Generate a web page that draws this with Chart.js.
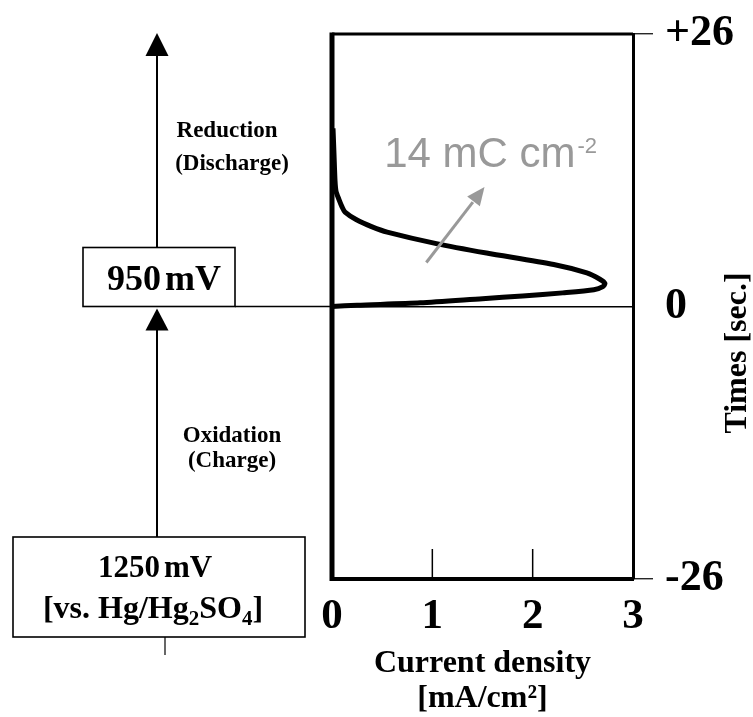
<!DOCTYPE html>
<html>
<head>
<meta charset="utf-8">
<script src="https://cdn.jsdelivr.net/npm/chart.js@4.4.1/dist/chart.umd.min.js"></script>
<style>
  html, body { margin: 0; padding: 0; background: #fff; }
  #wrap { width: 753px; height: 717px; }
</style>
</head>
<body>
<div id="wrap"><canvas id="chartPulse"></canvas></div>
<script>
// reduction current after the step back to 950 mV (time runs downwards)
const timeSec = [17, 14.5, 12, 11, 10.2, 9.5, 9.0, 8.3, 7.6, 7.1, 6.0, 5.1, 4.0, 3.2, 2.6, 2.2, 1.9, 1.6, 1.3, 1.0, 0.75, 0.35, 0.12, 0];
const currentDensity = [0.01, 0.02, 0.03, 0.04, 0.07, 0.10, 0.13, 0.24, 0.40, 0.55, 1.04, 1.54, 2.21, 2.54, 2.67, 2.72, 2.70, 2.61, 2.30, 1.90, 1.50, 0.88, 0.25, 0];
const xTickValues = [0, 1, 2, 3];
const yTickValues = [-26, 0, 26];
const yTickText = ['-26', '0', '+26'];

// where the charge note and its arrow sit, in axis units
const noteAt = { x: 0.52, y: 13.3 };
const noteArrow = { x1: 0.94, y1: 4.2, x2: 1.52, y2: 11.4 };

const serif = "'Liberation Serif', 'Times New Roman', serif";
const sans = "'Liberation Sans', Arial, sans-serif";

const line = (ctx, x1, y1, x2, y2) => {
  ctx.beginPath();
  ctx.moveTo(x1, y1);
  ctx.lineTo(x2, y2);
  ctx.stroke();
};

const arrowHead = (ctx, x1, y1, x2, y2, len, half) => {
  const ang = Math.atan2(y2 - y1, x2 - x1);
  const bx = x2 - Math.cos(ang) * len, by = y2 - Math.sin(ang) * len;
  ctx.beginPath();
  ctx.moveTo(x2, y2);
  ctx.lineTo(bx + Math.sin(ang) * half, by - Math.cos(ang) * half);
  ctx.lineTo(bx - Math.sin(ang) * half, by + Math.cos(ang) * half);
  ctx.closePath();
  ctx.fill();
};

// text made of runs of different size / vertical shift, centred on cx
const drawRuns = (ctx, runs, cx, base, weight, family) => {
  let total = 0;
  runs.forEach(r => {
    ctx.font = `${weight} ${r.size}px ${family}`;
    r.w = ctx.measureText(r.t).width + (r.gap || 0);
    total += r.w;
  });
  let px = cx - total / 2;
  ctx.textAlign = 'left';
  ctx.textBaseline = 'alphabetic';
  runs.forEach(r => {
    ctx.font = `${weight} ${r.size}px ${family}`;
    ctx.fillText(r.t, px, base + (r.dy || 0));
    px += r.w;
  });
};

const diagram = {
  id: 'diagram',
  afterDraw(chart) {
    const { ctx, chartArea: a, scales: { x, y } } = chart;
    const y0 = y.getPixelForValue(0);
    ctx.save();
    ctx.strokeStyle = '#000';
    ctx.fillStyle = '#000';

    // left and top edges of the frame
    ctx.lineWidth = 5;
    line(ctx, a.left, a.top - 1.5, a.left, a.bottom + 2);
    ctx.lineWidth = 3;
    line(ctx, a.left, a.top, a.right, a.top);

    // inward ticks along the current axis
    ctx.lineWidth = 1.5;
    x.ticks.forEach(t => {
      if (t.value > x.min && t.value < x.max) {
        const px = x.getPixelForValue(t.value);
        line(ctx, px, a.bottom, px, a.bottom - 30);
      }
    });

    // potential step scheme on the left
    const ax = 157;
    ctx.lineWidth = 2;
    line(ctx, ax, 50, ax, y0 - 59);
    arrowHead(ctx, ax, 80, ax, 33, 23, 11.5);
    line(ctx, ax, 537, ax, y0 + 20);
    arrowHead(ctx, ax, 400, ax, y0 + 2, 22, 11.5);

    ctx.lineWidth = 1.6;
    ctx.strokeRect(83, y0 - 59, 152, 59);
    line(ctx, 235, y0, a.left, y0);
    ctx.strokeRect(13, 537, 292, 100);
    ctx.lineWidth = 1.2;
    line(ctx, 165, 637, 165, 655);

    drawRuns(ctx, [{ t: '950', size: 36, gap: 4 }, { t: 'mV', size: 36 }], 164, y0 - 17, 'bold', serif);
    drawRuns(ctx, [{ t: '1250', size: 31, gap: 4 }, { t: 'mV', size: 31 }], 155, 577, 'bold', serif);
    drawRuns(ctx, [
      { t: '[vs. Hg/Hg', size: 32 },
      { t: '2', size: 21, dy: 7 },
      { t: 'SO', size: 32 },
      { t: '4', size: 21, dy: 7 },
      { t: ']', size: 32 }
    ], 153, 618, 'bold', serif);

    drawRuns(ctx, [{ t: 'Reduction', size: 23 }], 227, 137, 'bold', serif);
    drawRuns(ctx, [{ t: '(Discharge)', size: 23 }], 232, 170, 'bold', serif);
    drawRuns(ctx, [{ t: 'Oxidation', size: 23 }], 232, 442, 'bold', serif);
    drawRuns(ctx, [{ t: '(Charge)', size: 23 }], 232, 467, 'bold', serif);

    // time axis title, reading upwards
    ctx.save();
    ctx.translate(738, 353);
    ctx.rotate(-Math.PI / 2);
    ctx.font = `bold 32px ${serif}`;
    ctx.textAlign = 'center';
    ctx.textBaseline = 'middle';
    ctx.fillText('Times [sec.]', 0, 0);
    ctx.restore();

    // charge passed during reduction
    ctx.fillStyle = '#999';
    ctx.strokeStyle = '#999';
    const nx = x.getPixelForValue(noteAt.x), ny = y.getPixelForValue(noteAt.y);
    ctx.font = `42px ${sans}`;
    ctx.textAlign = 'left';
    ctx.textBaseline = 'alphabetic';
    ctx.fillText('14 mC cm', nx, ny);
    const w = ctx.measureText('14 mC cm').width;
    ctx.font = `22px ${sans}`;
    ctx.fillText('-2', nx + w + 2, ny - 14);

    const x1 = x.getPixelForValue(noteArrow.x1), y1 = y.getPixelForValue(noteArrow.y1);
    const x2 = x.getPixelForValue(noteArrow.x2), y2 = y.getPixelForValue(noteArrow.y2);
    ctx.lineWidth = 3;
    line(ctx, x1, y1, x1 + (x2 - x1) * 0.8, y1 + (y2 - y1) * 0.8);
    arrowHead(ctx, x1, y1, x2, y2, 18, 8);

    ctx.restore();
  }
};

new Chart(document.getElementById('chartPulse').getContext('2d'), {
  type: 'scatter',
  data: {
    datasets: [{
      label: 'Current',
      data: timeSec.map((t, i) => ({ x: currentDensity[i], y: t })),
      showLine: true,
      borderColor: '#000',
      borderWidth: 5,
      pointRadius: 0,
      tension: 0.25
    }]
  },
  options: {
    responsive: true,
    maintainAspectRatio: false,
    animation: false,
    layout: { padding: { left: 332, top: 34, right: 0, bottom: 0 } },
    plugins: { legend: { display: false }, tooltip: { enabled: false } },
    scales: {
      x: {
        type: 'linear',
        min: 0,
        max: 3,
        afterBuildTicks: s => { s.ticks = xTickValues.map(v => ({ value: v })); },
        afterFit: s => { s.height = 138; },
        grid: { display: false },
        border: { display: true, color: '#000', width: 4 },
        ticks: {
          color: '#000',
          padding: 8,
          font: { family: serif, size: 43, weight: 'bold', lineHeight: 1 },
          callback: v => String(v)
        },
        title: {
          display: true,
          text: ['Current density', '[mA/cm\u00b2]'],
          color: '#000',
          padding: 0,
          font: { family: serif, size: 32, weight: 'bold', lineHeight: 1.12 }
        }
      },
      y: {
        type: 'linear',
        position: 'right',
        min: -26,
        max: 26,
        afterBuildTicks: s => { s.ticks = yTickValues.map(v => ({ value: v })); },
        afterFit: s => { s.width = 120; },
        grid: {
          display: true,
          drawOnChartArea: true,
          drawTicks: true,
          tickLength: 20,
          lineWidth: 1.5,
          color: c => (c.tick && c.tick.value === 0 ? '#000' : 'rgba(0,0,0,0)'),
          tickColor: c => (c.tick && c.tick.value === 0 ? 'rgba(0,0,0,0)' : '#000'),
          tickWidth: 1.2
        },
        border: { display: true, color: '#000', width: 3 },
        ticks: {
          color: '#000',
          padding: 12,
          font: { family: serif, size: 44, weight: 'bold', lineHeight: 1 },
          callback: v => yTickText[yTickValues.indexOf(v)]
        }
      }
    }
  },
  plugins: [diagram]
});
</script>
</body>
</html>
